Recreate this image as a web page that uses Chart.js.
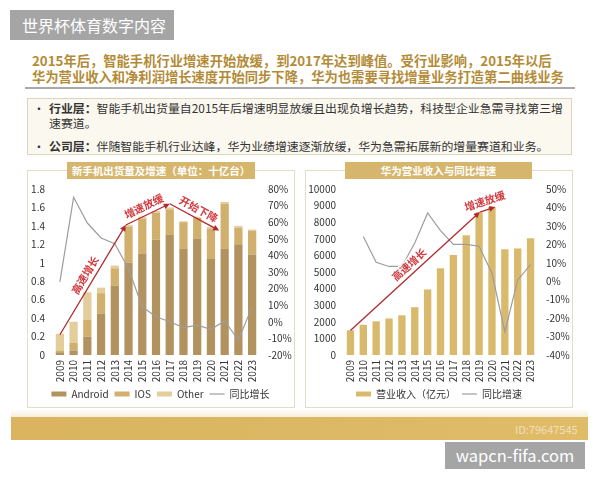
<!DOCTYPE html>
<html>
<head>
<meta charset="utf-8">
<script src="https://cdn.jsdelivr.net/npm/chart.js@4"></script>
<style>
  body { margin: 0; width: 600px; height: 480px; background: #fff; position: relative; overflow: hidden;
         font-family: "Noto Sans CJK SC", "Noto Sans", sans-serif; }
  .abs { position: absolute; }
  .badge { background: #a5a5a5; color: #fff; }
  .head { left: 32px; color: #b38b36; font-weight: bold; font-size: 13.3px; white-space: nowrap; line-height: 16px; }
  .info { color: #333; font-size: 11.9px; white-space: nowrap; line-height: 15px; }
  .panel { border: 1px solid #e4dcc7; background: #fff; }
  .tab { background: #d6b66d; color: #fff; font-weight: bold; font-size: 10.5px; text-align: center; line-height: 17px; height: 17px; }
</style>
</head>
<body>
<div class="abs badge" style="left:10px;top:10px;width:164px;height:30px;line-height:30px;font-size:16px;padding-left:12px;box-sizing:border-box;">世界杯体育数字内容</div>

<div class="abs head" style="top:53px;">2015年后，智能手机行业增速开始放缓，到2017年达到峰值。受行业影响，2015年以后</div>
<div class="abs head" style="top:69px;">华为营业收入和净利润增长速度开始同步下降，华为也需要寻找增量业务打造第二曲线业务</div>
<div class="abs" style="left:25px;top:87px;width:550px;height:2px;background:#a9a9a9;"></div>

<div class="abs" style="left:27px;top:98px;width:545px;height:57px;background:#fbf8ef;border:1px solid #ddd4bd;box-sizing:border-box;"></div>
<div class="abs info" style="left:33px;top:100px;">•</div>
<div class="abs info" style="left:49px;top:100px;"><b>行业层：</b>智能手机出货量自2015年后增速明显放缓且出现负增长趋势，科技型企业急需寻找第三增<br>速赛道。</div>
<div class="abs info" style="left:33px;top:138px;">•</div>
<div class="abs info" style="left:49px;top:138px;"><b>公司层：</b>伴随智能手机行业达峰，华为业绩增速逐渐放缓，华为急需拓展新的增量赛道和业务。</div>

<div class="abs panel" style="left:27px;top:170px;width:268px;height:238px;box-sizing:border-box;"></div>
<div class="abs panel" style="left:305px;top:170px;width:268px;height:238px;box-sizing:border-box;"></div>

<div class="abs" style="left:28px;top:174px;width:265px;height:235px;"><canvas id="ship"></canvas></div>
<div class="abs" style="left:305px;top:174px;width:268px;height:235px;"><canvas id="rev"></canvas></div>

<div class="abs tab" style="left:67px;top:162px;width:188px;">新手机出货量及增速（单位：十亿台）</div>
<div class="abs tab" style="left:345px;top:162px;width:187px;">华为营业收入与同比增速</div>

<div class="abs" style="left:11px;top:409px;width:577px;height:8px;background:linear-gradient(#fff,#f6eedb);"></div>
<div class="abs" style="left:11px;top:417px;width:577px;height:23px;background:linear-gradient(90deg,#dab45f,#e0bc68);"></div>
<div class="abs" style="left:515px;top:421px;font-size:11px;color:rgba(255,255,255,0.55);">ID:79647545</div>
<div class="abs badge" style="left:445px;top:442px;width:140px;height:27px;line-height:27px;font-size:16.5px;text-align:center;">wapcn-fifa.com</div>

<script>
const years = ['2009','2010','2011','2012','2013','2014','2015','2016','2017','2018','2019','2020','2021','2022','2023'];

// 新手机出货量（十亿台）
const android = [0.03, 0.05, 0.20, 0.45, 0.75, 1.00, 1.10, 1.25, 1.30, 1.15, 1.26, 1.04, 1.15, 1.20, 1.09];
const ios     = [0.02, 0.08, 0.18, 0.22, 0.19, 0.39, 0.38, 0.29, 0.28, 0.29, 0.23, 0.33, 0.49, 0.18, 0.26];
const other   = [0.18, 0.23, 0.30, 0.06, 0.03, 0.02, 0.02, 0.02, 0.02, 0.01, 0.01, 0.02, 0.02, 0.02, 0.01];
const shipGrowth = [24, 75, 59.5, 50.5, 47, 32, 9, 3, 0, -3.5, -2, -4.5, 0.5, -11, 9];

// 华为营业收入（亿元）与同比增速
const revenue   = [1490, 1820, 2030, 2200, 2390, 2880, 3950, 5220, 6020, 7210, 8590, 8910, 6370, 6420, 7040];
const revGrowth = [null, 24.3, 10.3, 8, 8, 20.7, 37, 27.4, 20, 20, 19, 4.3, -27.4, 0.7, 9];

// red arrow notes, in data coordinates [category index, value]
const shipNotes = [
  {from: [0, 0.22], to: [4.8, 1.41], text: '高速增长'},
  {from: [4.8, 1.41], to: [8, 1.64], text: '增速放缓'},
  {from: [8, 1.64], to: [11.6, 1.35], text: '开始下降'}
];
const revNotes = [
  {from: [0, 1470], to: [10.05, 8610], text: '高速增长'},
  {from: [10.05, 8610], to: [11.25, 8910], text: '增速放缓'}
];

const FONT = '"Noto Sans CJK SC", "Noto Sans", sans-serif';
const INK = '#333';

const arrowNotes = {
  id: 'arrowNotes',
  afterDatasetsDraw(chart, args, opts) {
    const {ctx, scales: {x, y}} = chart;
    ctx.save();
    opts.notes.forEach(n => {
      const x1 = x.getPixelForValue(n.from[0]), y1 = y.getPixelForValue(n.from[1]);
      const x2 = x.getPixelForValue(n.to[0]), y2 = y.getPixelForValue(n.to[1]);
      const a = Math.atan2(y2 - y1, x2 - x1);
      ctx.strokeStyle = '#b02a2e';
      ctx.fillStyle = '#b02a2e';
      ctx.lineWidth = 1.3;
      ctx.beginPath();
      ctx.moveTo(x1, y1);
      ctx.lineTo(x2 - Math.cos(a) * 4, y2 - Math.sin(a) * 4);
      ctx.stroke();
      ctx.beginPath();
      ctx.moveTo(x2, y2);
      ctx.lineTo(x2 - Math.cos(a) * 6 + Math.sin(a) * 3, y2 - Math.sin(a) * 6 - Math.cos(a) * 3);
      ctx.lineTo(x2 - Math.cos(a) * 6 - Math.sin(a) * 3, y2 - Math.sin(a) * 6 + Math.cos(a) * 3);
      ctx.closePath();
      ctx.fill();

      const mx = (x1 + x2) / 2 + Math.sin(a) * 9;
      const my = (y1 + y2) / 2 - Math.cos(a) * 9;
      ctx.translate(mx, my);
      ctx.rotate(a);
      ctx.font = 'bold 10.5px ' + FONT;
      ctx.textAlign = 'center';
      ctx.textBaseline = 'middle';
      ctx.lineWidth = 3;
      ctx.strokeStyle = '#fff';
      ctx.strokeText(n.text, 0, 0);
      ctx.fillStyle = '#d23a3f';
      ctx.fillText(n.text, 0, 0);
      ctx.setTransform(1, 0, 0, 1, 0, 0);
    });
    ctx.restore();
  }
};

const legendOpts = {
  position: 'bottom',
  labels: {usePointStyle: true, pointStyleWidth: 15, boxHeight: 5, padding: 6, color: INK, font: {size: 10, family: FONT}}
};

function baseScales(leftW, rightW) {
  return {
    x: {
      stacked: true,
      grid: {display: false, drawTicks: false},
      border: {display: false},
      ticks: {autoSkip: false, minRotation: 90, maxRotation: 90, padding: 5, color: INK, font: {size: 10, family: FONT}},
      afterFit: s => { s.height = 28; }
    },
    y: {
      stacked: true,
      grid: {display: false, drawTicks: false},
      border: {display: false},
      ticks: {autoSkip: false, padding: 8, color: INK, font: {size: 10, family: FONT}},
      afterFit: s => { s.width = leftW; }
    },
    y1: {
      position: 'right',
      grid: {display: false, drawTicks: false},
      border: {display: false},
      ticks: {autoSkip: false, padding: 9, color: INK, font: {size: 10, family: FONT}, callback: v => v + '%'},
      afterFit: s => { s.width = rightW; }
    }
  };
}

const shipScales = baseScales(25, 34);
Object.assign(shipScales.y, {min: 0, max: 1.8});
shipScales.y.ticks.stepSize = 0.2;
shipScales.y.ticks.callback = v => String(Math.round(v * 10) / 10);
Object.assign(shipScales.y1, {min: -20, max: 80});
shipScales.y1.ticks.stepSize = 10;

new Chart(document.getElementById('ship'), {
  type: 'bar',
  data: {
    labels: years,
    datasets: [
      {type: 'line', label: '同比增长', data: shipGrowth, yAxisID: 'y1', borderColor: '#9d9d9d', borderWidth: 1.2,
       pointRadius: 0, pointStyle: 'line', tension: 0, order: 0},
      {label: 'Android', data: android, backgroundColor: '#b29360', pointStyle: 'rect', barPercentage: 0.6, categoryPercentage: 1, order: 1},
      {label: 'IOS', data: ios, backgroundColor: '#d0b06c', pointStyle: 'rect', barPercentage: 0.6, categoryPercentage: 1, order: 1},
      {label: 'Other', data: other, backgroundColor: '#e3cd9b', pointStyle: 'rect', barPercentage: 0.6, categoryPercentage: 1, order: 1}
    ]
  },
  options: {
    responsive: true,
    maintainAspectRatio: false,
    animation: false,
    layout: {padding: {top: 9, left: 0, right: 0, bottom: 0}},
    scales: shipScales,
    plugins: {
      legend: Object.assign({}, legendOpts, {
        labels: Object.assign({}, legendOpts.labels, {sort: (a, b) => (a.datasetIndex === 0) - (b.datasetIndex === 0)})
      }),
      tooltip: {enabled: false},
      arrowNotes: {notes: shipNotes}
    }
  },
  plugins: [arrowNotes]
});

const revScales = baseScales(39, 36);
revScales.x.stacked = false;
revScales.y.stacked = false;
Object.assign(revScales.y, {min: 0, max: 10000});
revScales.y.ticks.stepSize = 1000;
revScales.y.ticks.callback = v => String(v);
Object.assign(revScales.y1, {min: -40, max: 50});
revScales.y1.ticks.stepSize = 10;

new Chart(document.getElementById('rev'), {
  type: 'bar',
  data: {
    labels: years,
    datasets: [
      {type: 'line', label: '同比增速', data: revGrowth, yAxisID: 'y1', borderColor: '#9d9d9d', borderWidth: 1.2,
       pointRadius: 0, pointStyle: 'line', tension: 0, order: 0},
      {label: '营业收入（亿元）', data: revenue, backgroundColor: '#d9ba6c', pointStyle: 'rect', barPercentage: 0.57, categoryPercentage: 1, order: 1}
    ]
  },
  options: {
    responsive: true,
    maintainAspectRatio: false,
    animation: false,
    layout: {padding: {top: 9, left: 0, right: 0, bottom: 0}},
    scales: revScales,
    plugins: {
      legend: Object.assign({}, legendOpts, {
        labels: Object.assign({}, legendOpts.labels, {sort: (a, b) => (a.datasetIndex === 0) - (b.datasetIndex === 0)})
      }),
      tooltip: {enabled: false},
      arrowNotes: {notes: revNotes}
    }
  },
  plugins: [arrowNotes]
});
</script>
</body>
</html>
